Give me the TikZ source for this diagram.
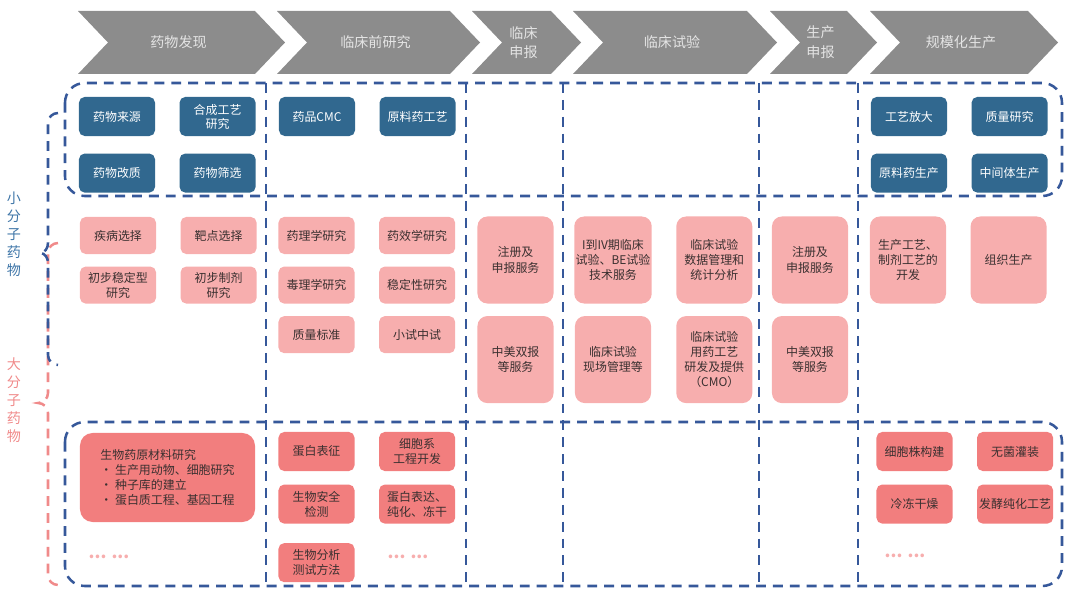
\documentclass[tikz,border=0pt]{standalone}
\usepackage{fontspec}
\setmainfont{Noto Sans CJK SC}
\usepackage{tikz}
\usetikzlibrary{positioning}
\definecolor{stagegray}{HTML}{8C8C8C}
\definecolor{stagetext}{HTML}{E4E4E4}
\definecolor{boxblue}{HTML}{31688F}
\definecolor{lightpink}{HTML}{F7AEAE}
\definecolor{coral}{HTML}{F27E7E}
\definecolor{dashblue}{HTML}{36589A}
\definecolor{labelblue}{HTML}{3F76A8}
\definecolor{labelpink}{HTML}{F08A8A}
\definecolor{textdark}{HTML}{3A3030}
\tikzset{
 stage/.style = {
    fill=stagegray, draw=none},
 stage label/.style = {
    text=stagetext, align=center,
    font=\fontsize{10}{14}\selectfont},
 blue block/.style = {
    rectangle, fill=boxblue, text=white,
    rounded corners=4pt, inner sep=1pt,
    minimum width=1.9cm, minimum height=0.975cm,
    align=center, font=\fontsize{8.5}{10}\selectfont},
 pink block/.style = {
    rectangle, fill=lightpink, text=textdark,
    rounded corners=4pt, inner sep=1pt,
    minimum width=1.9cm, minimum height=0.925cm,
    align=center, font=\fontsize{8.5}{10.8}\selectfont},
 tall block/.style = {
    pink block, rounded corners=7pt, minimum height=2.175cm},
 bio block/.style = {
    pink block, fill=coral, minimum height=0.975cm},
 dashline/.style = {
    draw=dashblue, line width=1.8pt, dash pattern=on 7pt off 5pt},
 side label/.style = {
    align=center, font=\fontsize{10}{12.8}\selectfont},
 dots/.style = {
    text=lightpink, font=\fontsize{12}{12}\bfseries},
}
\begin{document}
\begin{tikzpicture}[x=0.025cm, y=-0.025cm]
\useasboundingbox (0,0) rectangle (1080,590);

% Stages
\foreach \a/\b/\t/\n in {78/255/{药物发现}/discovery, 277/450/{临床前研究}/preclinical,
  472/551/{临床\\申报}/ind, 573/747/{临床试验}/trial, 770/847/{生产\\申报}/nda,
  870/1028/{规模化生产}/scaleup}{
  \fill[stage] (\a,11) -- (\b,11) -- (\b+30,42.5) -- (\b,74) -- (\a,74) -- (\a+30,42.5) -- cycle;
  \node[stage label] (\n) at ({(\a+\b+30)/2-3},42.5) {\t};
}

% Dashed frames
\draw[dashline, rounded corners=14pt] (65,83) rectangle (1062,196);
\draw[dashline, rounded corners=14pt] (65,422) rectangle (1062,586);
\foreach \x in {266,466,563,759,858}
  \draw[dashline] (\x,83) -- (\x,586);

% Side labels and braces
\node[side label, text=labelblue] (smallmol) at (14,234) {小\\分\\子\\药\\物};
\node[side label, text=labelpink] (largemol) at (14,400) {大\\分\\子\\药\\物};
\draw[dashline, draw=labelpink] (58,243) to[out=180,in=90] (48,253) -- (48,393)
  to[out=-90,in=0] (38,403) to[out=0,in=90] (48,413) -- (48,575) to[out=-90,in=180] (58,585);
\draw[dashline] (58,113) to[out=180,in=90] (48,123) -- (48,243)
  to[out=-90,in=0] (40,253) to[out=0,in=90] (48,263) -- (48,355) to[out=-90,in=180] (58,365);

% Place nodes: top row
\node[blue block] (source) at (117,116.5) {药物来源};
\node[blue block, right=0.6cm of source] (synth) {合成工艺\\研究};
\node[blue block, below=0.425cm of source] (modify) {药物改质};
\node[blue block, below=0.425cm of synth] (screen) {药物筛选};
\node[blue block] (cmc) at (317,116.5) {药品CMC};
\node[blue block, right=0.6cm of cmc] (apiproc) {原料药工艺};
\node[blue block] (scale) at (909,116.5) {工艺放大};
\node[blue block, right=0.6cm of scale] (quality) {质量研究};
\node[blue block, below=0.425cm of scale] (apiprod) {原料药生产};
\node[blue block, below=0.425cm of quality] (interm) {中间体生产};

% Place nodes: middle row
\node[pink block] (disease) at (118,235.5) {疾病选择};
\node[pink block, right=0.6cm of disease] (target) {靶点选择};
\node[pink block, below=0.3cm of disease] (stable) {初步稳定型\\研究};
\node[pink block, below=0.3cm of target] (formul) {初步制剂\\研究};
\node[pink block] (pharma) at (316.5,235.5) {药理学研究};
\node[pink block, right=0.6cm of pharma] (efficacy) {药效学研究};
\node[pink block, below=0.3cm of pharma] (toxic) {毒理学研究};
\node[pink block, below=0.3cm of efficacy] (stability) {稳定性研究};
\node[pink block, below=0.3cm of toxic] (standard) {质量标准};
\node[pink block, below=0.3cm of stability] (pilot) {小试中试};
\node[tall block] (indreg) at (515.5,260) {注册及\\申报服务};
\node[tall block, below=0.3cm of indreg] (inddual) {中美双报\\等服务};
\node[tall block] (phases) at (613,260) {I到IV期临床\\试验、BE试验\\技术服务};
\node[tall block, right=0.6cm of phases] (datamgmt) {临床试验\\数据管理和\\统计分析};
\node[tall block, below=0.3cm of phases] (sitemgmt) {临床试验\\现场管理等};
\node[tall block, below=0.3cm of datamgmt] (cmo) {临床试验\\用药工艺\\研发及提供\\（CMO）};
\node[tall block] (ndareg) at (810,260) {注册及\\申报服务};
\node[tall block, below=0.3cm of ndareg] (ndadual) {中美双报\\等服务};
\node[tall block] (procdev) at (908,260) {生产工艺、\\制剂工艺的\\开发};
\node[tall block, right=0.6cm of procdev] (organize) {组织生产};

% Place nodes: bottom row
\node[bio block, minimum width=4.375cm, minimum height=2.225cm, rounded corners=9pt, align=left] (biomat) at (167.5,477.5)
  {生物药原材料研究\\• 生产用动物、细胞研究\\• 种子库的建立\\• 蛋白质工程、基因工程};
\node[bio block] (protchar) at (316.5,451.5) {蛋白表征};
\node[bio block, below=0.325cm of protchar] (biosafe) {生物安全\\检测};
\node[bio block, below=0.475cm of biosafe] (bioassay) {生物分析\\测试方法};
\node[bio block, right=0.6cm of protchar] (cellline) {细胞系\\工程开发};
\node[bio block, below=0.325cm of cellline] (express) {蛋白表达、\\纯化、冻干};
\node[bio block] (strain) at (914.5,451.5) {细胞株构建};
\node[bio block, right=0.6cm of strain] (filling) {无菌灌装};
\node[bio block, below=0.325cm of strain] (freeze) {冷冻干燥};
\node[bio block, below=0.325cm of filling] (ferment) {发酵纯化工艺};
\node[dots] (moreA) at (109,557) {... ...};
\node[dots] (moreB) at (408,557) {... ...};
\node[dots] (moreC) at (905,556) {... ...};

\end{tikzpicture}
\end{document}
